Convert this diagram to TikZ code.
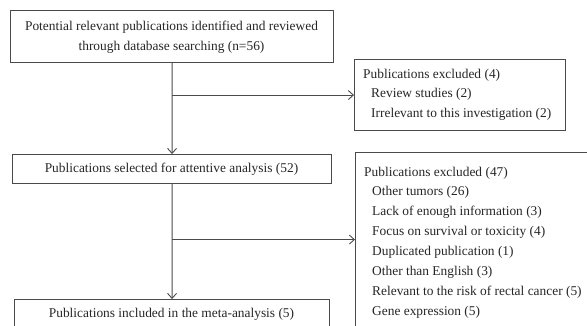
\documentclass[tikz,border=0pt]{standalone}
\usepackage{fontspec}
\setmainfont{Liberation Serif}
\usetikzlibrary{arrows.meta}
\definecolor{linec}{HTML}{4A4A4A}
\definecolor{textc}{HTML}{262626}
\tikzset{
  box/.style={draw=linec, line width=1.1bp, anchor=north west, inner sep=0pt},
  txt/.style={text=textc, font=\fontsize{13.4bp}{19.9bp}\selectfont, inner sep=0pt},
  conn/.style={draw=linec, line width=0.9bp},
  arr/.style={conn, -{Straight Barb[length=5bp,width=9bp,line width=0.9bp]}}
}
\begin{document}
\begin{tikzpicture}[x=1bp,y=1bp]
\useasboundingbox (0,0) rectangle (587,-325);
\fill[white] (0,0) rectangle (587,-325);
\begin{scope}
\clip (0,0) rectangle (587,-325);
% boxes
\node[box, minimum width=323bp, minimum height=52bp] (top) at (10,-10) {};
\node[box, minimum width=211bp, minimum height=71bp] (exA) at (354,-59) {};
\node[box, minimum width=319bp, minimum height=29bp] (sel) at (12,-154) {};
\node[box, minimum width=300bp, minimum height=174bp] (exB) at (355,-152) {};
\node[box, minimum width=315bp, minimum height=60bp] (inc) at (14,-299) {};
% texts (base anchor = baseline of the last line)
\node[txt, align=center, anchor=base] (topt) at (171.5,-50.4) {Potential relevant publications identified and reviewed\\through database searching (n=56)};
\node[txt, align=left, anchor=base west] (exAt) at (363,-117.8) {Publications excluded (4)\\\hspace*{8bp}Review studies (2)\\\hspace*{8bp}Irrelevant to this investigation (2)};
\node[txt, anchor=base] (selt) at (171.5,-172.7) {Publications selected for attentive analysis (52)};
\node[txt, align=left, anchor=base west] (exBt) at (364,-315.3) {Publications excluded (47)\\\hspace*{8bp}Other tumors (26)\\\hspace*{8bp}Lack of enough information (3)\\\hspace*{8bp}Focus on survival or toxicity (4)\\\hspace*{8bp}Duplicated publication (1)\\\hspace*{8bp}Other than English\ (3)\\\hspace*{8bp}Relevant to the risk\ of rectal cancer (5)\\\hspace*{8bp}Gene expression (5)};
\node[txt, anchor=base] (inct) at (171.5,-317) {Publications included in the meta-analysis (5)};
% connectors
\coordinate (j1) at (top.south |- exA.west);
\coordinate (j2) at (sel.south |- exB.west);
\draw[arr] (top.south) -- (sel.north);
\draw[arr] (j1) -- (exA.west);
\draw[arr] (sel.south) -- (inc.north);
\draw[arr] (j2) -- (exB.west);
\end{scope}
\end{tikzpicture}
\end{document}
